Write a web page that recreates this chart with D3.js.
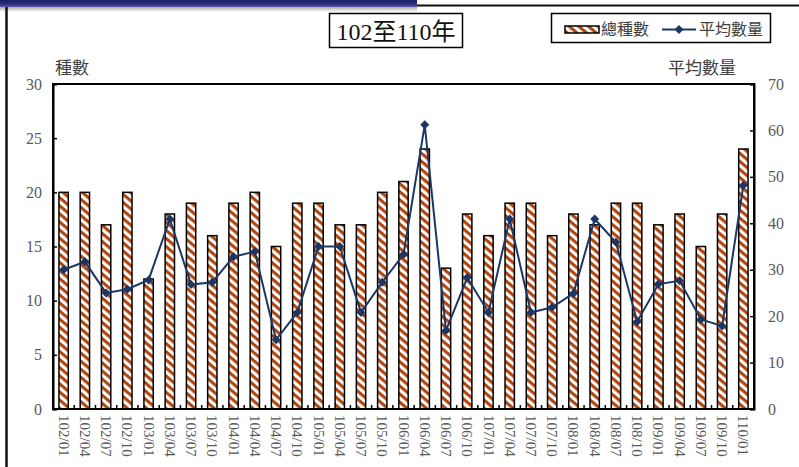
<!DOCTYPE html>
<html>
<head>
<meta charset="utf-8">
<script src="https://cdn.jsdelivr.net/npm/d3@7"></script>
<style>
  html, body { margin: 0; padding: 0; background: #fff; }
  svg { display: block; }
</style>
</head>
<body>
<svg id="chart" width="799" height="467"></svg>
<script>
const categories = ["102/01","102/04","102/07","102/10","103/01","103/04","103/07","103/10",
  "104/01","104/04","104/07","104/10","105/01","105/04","105/07","105/10",
  "106/01","106/04","106/07","106/10","107/01","107/04","107/07","107/10",
  "108/01","108/04","108/07","108/10","109/01","109/04","109/07","109/10","110/01"];
const totalSpecies = [20,20,17,20,12,18,19,16, 19,20,15,19,19,17,17,20,
  21,24,13,18,16,19,19,16, 18,17,19,19,17,18,15,18,24];
const avgQuantity = [30,31.7,25,25.8,27.8,40.9,26.8,27.3, 32.8,33.9,14.9,20.8,35,35,20.8,27.3,
  33.3,61.2,16.9,28.3,20.8,40.9,20.8,21.9, 24.9,40.9,35.9,18.8,26.9,27.6,19.3,17.9,48.2];
const leftTicks = [0,5,10,15,20,25,30];
const rightTicks = [0,10,20,30,40,50,60,70];
const titleText = "102至110年";
const leftTitle = "種數";
const rightTitle = "平均數量";
const legendBar = "總種數";
const legendLine = "平均數量";

const svg = d3.select("#chart");
const serif = "'Liberation Serif','Times New Roman','Noto Sans CJK TC',serif";
const brown = "#B0460E";
const navy = "#1B3768";
const gray = "#595959";

// background decoration: top band + left frame line
const defs = svg.append("defs");
const grad = defs.append("linearGradient").attr("id","band").attr("x1",0).attr("y1",0).attr("x2",0).attr("y2",1);
grad.append("stop").attr("offset","0%").attr("stop-color","#1c1c66");
grad.append("stop").attr("offset","60%").attr("stop-color","#2e2e86");
grad.append("stop").attr("offset","100%").attr("stop-color","#5a5aa0");
const shadow = defs.append("linearGradient").attr("id","shadow").attr("x1",0).attr("y1",0).attr("x2",0).attr("y2",1);
shadow.append("stop").attr("offset","0%").attr("stop-color","#9a9a9a");
shadow.append("stop").attr("offset","100%").attr("stop-color","#ffffff");

svg.append("rect").attr("x",0).attr("y",6).attr("width",417).attr("height",6).attr("fill","url(#shadow)");
svg.append("rect").attr("x",0).attr("y",0).attr("width",417).attr("height",7).attr("fill","url(#band)");
svg.append("line").attr("x1",417).attr("x2",799).attr("y1",5.5).attr("y2",5.5).attr("stroke","#111").attr("stroke-width",2);
svg.append("line").attr("x1",6.5).attr("x2",6.5).attr("y1",7).attr("y2",467).attr("stroke","#111").attr("stroke-width",2.5);

// hatch pattern
const pat = defs.append("pattern").attr("id","hatch").attr("patternUnits","userSpaceOnUse")
  .attr("width",8).attr("height",6.2).attr("patternTransform","rotate(40)");
pat.append("rect").attr("width",8).attr("height",6.2).attr("fill","#fff");
pat.append("rect").attr("width",8).attr("height",3.1).attr("fill",brown);

// layout
const L = 53, R = 754, T = 84, B = 409;
const x = d3.scaleBand().domain(categories).range([L, R]).paddingInner(0.56).paddingOuter(0.28);
const yL = d3.scaleLinear().domain([0, 30]).range([B, T]);
const yR = d3.scaleLinear().domain([0, 70]).range([B, T]);

// bars
svg.append("g").selectAll("rect").data(categories).join("rect")
  .attr("x", d => x(d))
  .attr("y", (d,i) => yL(totalSpecies[i]))
  .attr("width", x.bandwidth())
  .attr("height", (d,i) => B - yL(totalSpecies[i]))
  .attr("fill","url(#hatch)")
  .attr("stroke","#000").attr("stroke-width",1.5);

// plot frame
svg.append("rect").attr("x",L).attr("y",T).attr("width",R-L).attr("height",B-T)
  .attr("fill","none").attr("stroke","#000").attr("stroke-width",2);

// left axis
const gL = svg.append("g").attr("transform",`translate(${L},0)`)
  .call(d3.axisLeft(yL).tickValues(leftTicks).tickSize(-4).tickPadding(11));
gL.select(".domain").attr("stroke","#000").attr("stroke-width",2);
gL.selectAll(".tick line").attr("stroke","#000").attr("stroke-width",1.5);
gL.selectAll("text").attr("font-family",serif).attr("font-size",16).attr("fill",gray);

// right axis
const gR = svg.append("g").attr("transform",`translate(${R},0)`)
  .call(d3.axisRight(yR).tickValues(rightTicks).tickSize(-4).tickPadding(14));
gR.select(".domain").attr("stroke","#000").attr("stroke-width",2);
gR.selectAll(".tick line").attr("stroke","#000").attr("stroke-width",1.5);
gR.selectAll("text").attr("font-family",serif).attr("font-size",16).attr("fill",gray);

// bottom axis labels
const gB = svg.append("g").attr("transform",`translate(0,${B})`)
  .call(d3.axisBottom(x).tickSize(0).tickPadding(0));
gB.select(".domain").remove();
gB.selectAll("text")
  .attr("transform","rotate(90)")
  .attr("x",6).attr("y",0).attr("dy","0.33em")
  .attr("text-anchor","start")
  .attr("font-family",serif).attr("font-size",15).attr("fill",gray);
// boundary ticks (between categories)
const step = x.step();
svg.append("g").selectAll("line").data(categories.slice(1)).join("line")
  .attr("x1", d => x(d) - (x.step() - x.bandwidth())/2)
  .attr("x2", d => x(d) - (x.step() - x.bandwidth())/2)
  .attr("y1", B).attr("y2", B - 4)
  .attr("stroke","#000").attr("stroke-width",1.5);

// line series
const line = d3.line().x((d,i) => x(categories[i]) + x.bandwidth()/2).y(d => yR(d));
svg.append("path").datum(avgQuantity).attr("d", line)
  .attr("fill","none").attr("stroke",navy).attr("stroke-width",2);
const diamond = "M0,-4.5L4.5,0L0,4.5L-4.5,0Z";
svg.append("g").selectAll("path").data(avgQuantity).join("path")
  .attr("d", diamond)
  .attr("transform",(d,i) => `translate(${x(categories[i]) + x.bandwidth()/2},${yR(d)})`)
  .attr("fill",navy);

// axis titles
svg.append("text").attr("x",55).attr("y",74).text(leftTitle)
  .attr("font-family","'Noto Sans CJK TC',sans-serif").attr("font-size",17).attr("fill","#404040");
svg.append("text").attr("x",668).attr("y",74).text(rightTitle)
  .attr("font-family","'Noto Sans CJK TC',sans-serif").attr("font-size",17).attr("fill","#404040");

// title box
svg.append("rect").attr("x",329.5).attr("y",13.5).attr("width",133).attr("height",34)
  .attr("fill","#fff").attr("stroke","#000").attr("stroke-width",1.5);
svg.append("text").attr("x",396).attr("y",40).attr("text-anchor","middle").text(titleText)
  .attr("font-family",serif).attr("font-size",24).attr("fill","#111");

// legend
svg.append("rect").attr("x",551.5).attr("y",13.5).attr("width",219).attr("height",29)
  .attr("fill","#fff").attr("stroke","#000").attr("stroke-width",1.5);
svg.append("rect").attr("x",565).attr("y",26).attr("width",34).attr("height",7)
  .attr("fill","url(#hatch)").attr("stroke","#000").attr("stroke-width",1.5);
svg.append("text").attr("x",601).attr("y",35).text(legendBar)
  .attr("font-family","'Noto Sans CJK TC',sans-serif").attr("font-size",16).attr("fill","#404040");
svg.append("line").attr("x1",662).attr("x2",696).attr("y1",29.5).attr("y2",29.5)
  .attr("stroke",navy).attr("stroke-width",2);
svg.append("path").attr("d",diamond).attr("transform","translate(679,29.5)").attr("fill",navy);
svg.append("text").attr("x",699).attr("y",35).text(legendLine)
  .attr("font-family","'Noto Sans CJK TC',sans-serif").attr("font-size",16).attr("fill","#404040");
</script>
</body>
</html>
